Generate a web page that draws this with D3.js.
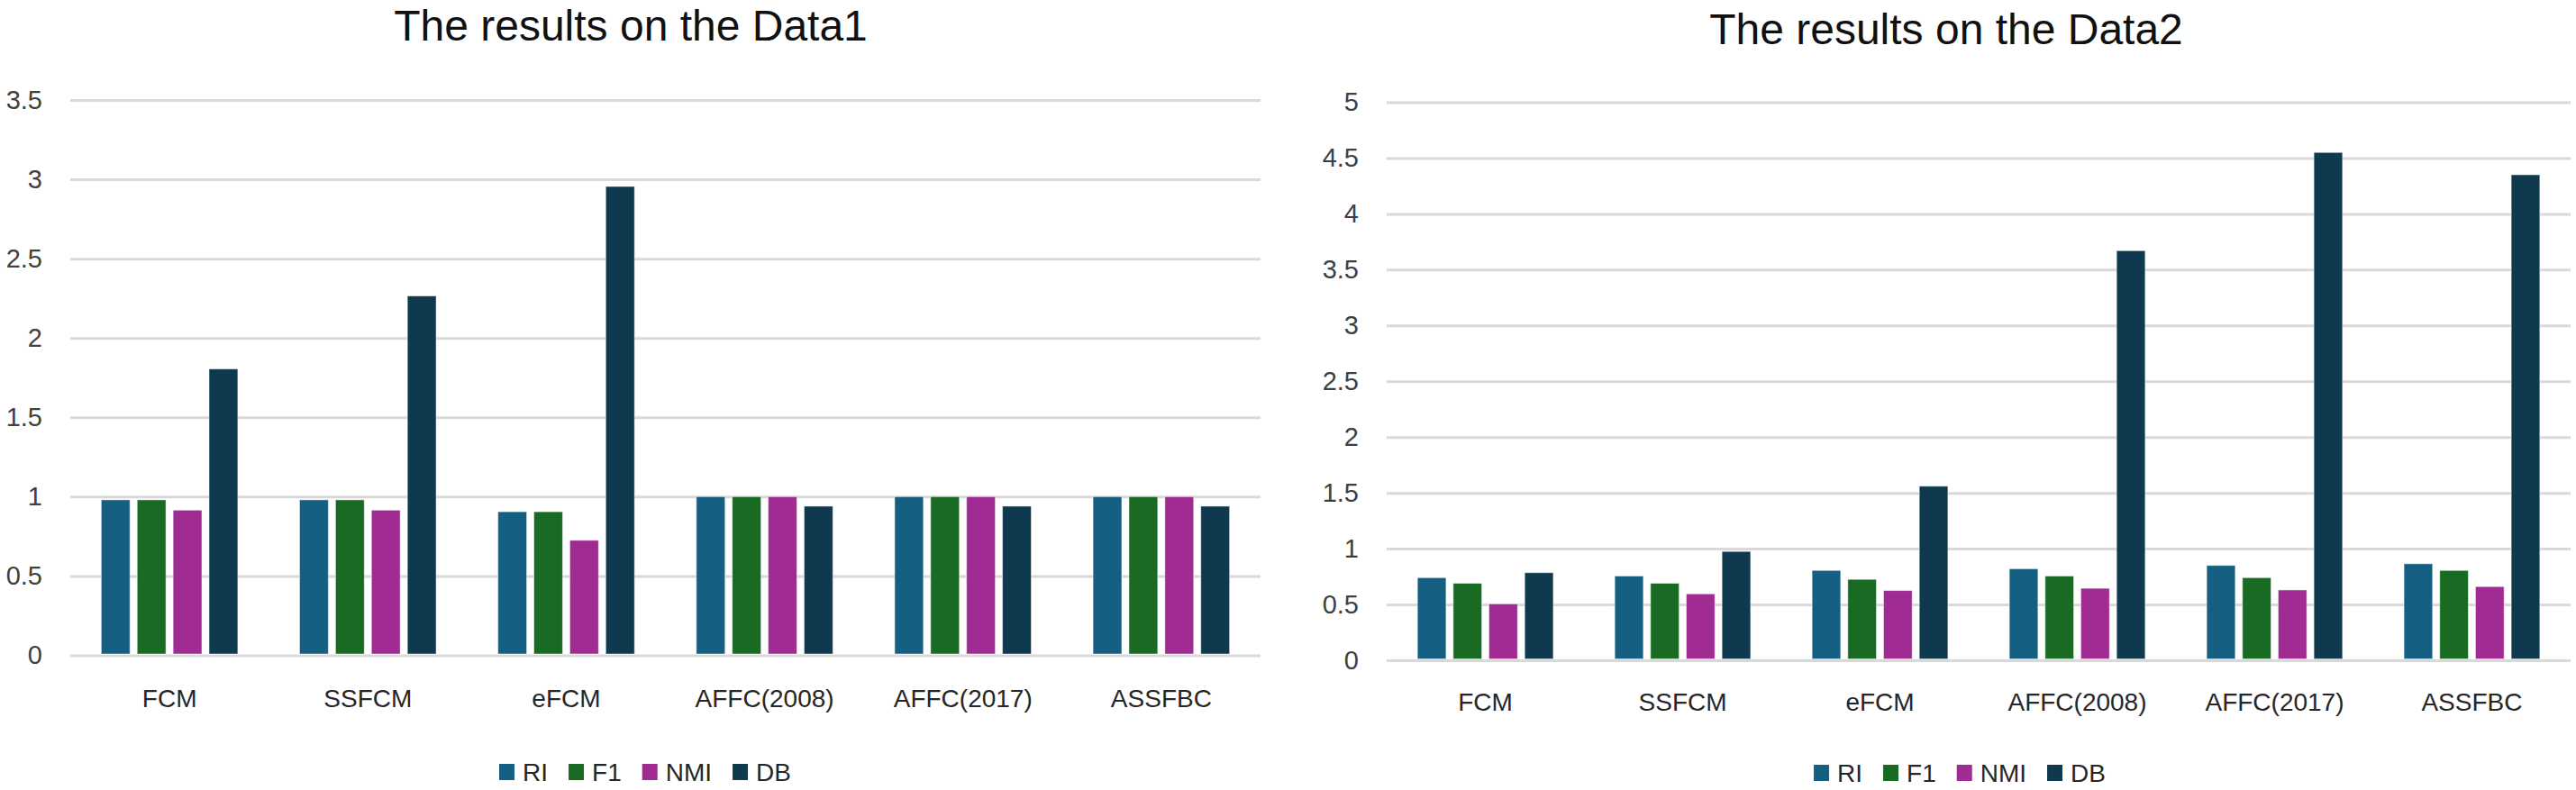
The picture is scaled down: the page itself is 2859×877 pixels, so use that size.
<!DOCTYPE html>
<html>
<head>
<meta charset="utf-8">
<script src="https://cdn.jsdelivr.net/npm/d3@7"></script>
<style>
  html, body { margin: 0; padding: 0; background: #fff; }
  text { font-family: "Liberation Sans", Arial, sans-serif; }
</style>
</head>
<body>
<svg id="canvas" width="2859" height="877"></svg>
<script>
// ************************************************************************************** //
// Data

var methods = ['FCM', 'SSFCM', 'eFCM', 'AFFC(2008)', 'AFFC(2017)', 'ASSFBC'];
var metrics = ['RI', 'F1', 'NMI', 'DB'];
var colors  = ['#156082', '#196B24', '#A02B93', '#0E394E'];

// Data1 results, one array per metric
var d1_RI  = [0.98, 0.98, 0.905, 1.0, 1.0, 1.0];
var d1_F1  = [0.98, 0.98, 0.905, 1.0, 1.0, 1.0];
var d1_NMI = [0.915, 0.915, 0.725, 1.0, 1.0, 1.0];
var d1_DB  = [1.805, 2.265, 2.955, 0.94, 0.94, 0.94];

// Data2 results
var d2_RI  = [0.74, 0.755, 0.805, 0.82, 0.85, 0.865];
var d2_F1  = [0.69, 0.69, 0.725, 0.755, 0.74, 0.805];
var d2_NMI = [0.505, 0.595, 0.625, 0.645, 0.63, 0.66];
var d2_DB  = [0.785, 0.975, 1.56, 3.67, 4.55, 4.35];

var ticks1 = [0, 0.5, 1, 1.5, 2, 2.5, 3, 3.5];
var ticks2 = [0, 0.5, 1, 1.5, 2, 2.5, 3, 3.5, 4, 4.5, 5];

var titles = ['The results on the Data1', 'The results on the Data2'];

// ************************************************************************************** //
// Drawing one chart

function drawChart(cfg){
  var g = d3.select('#canvas').append('g');
  var series = cfg.series;

  var x0 = d3.scaleBand().domain(methods).range([cfg.left, cfg.right]).paddingInner(0.3115).paddingOuter(0.156);
  var x1 = d3.scaleBand().domain(metrics).range([0, x0.bandwidth()]).paddingInner(0.2);
  var y = d3.scaleLinear().domain([0, cfg.ticks[cfg.ticks.length - 1]]).range([cfg.bottom, cfg.top]);

  // Title
  g.append('text')
    .attr('x', cfg.cx).attr('y', cfg.titleY)
    .attr('text-anchor', 'middle')
    .style('font-size', '48px').style('fill', '#111')
    .text(cfg.title);

  // Grid lines and y labels
  var yAxis = d3.axisLeft(y).tickValues(cfg.ticks).tickSize(-(cfg.right - cfg.left)).tickPadding(31).tickFormat(d3.format('~g'));
  var ax = g.append('g').attr('transform', 'translate(' + cfg.left + ',0)').call(yAxis);
  ax.select('.domain').remove();
  ax.selectAll('.tick line').attr('stroke', '#d9d9d9').attr('stroke-width', 3);
  ax.selectAll('.tick text').style('font-size', '29px').style('fill', '#404040').style('font-family', '"Liberation Sans", Arial, sans-serif');

  // Bars
  var groups = g.selectAll('.grp').data(methods).enter().append('g')
    .attr('transform', function(d){ return 'translate(' + x0(d) + ',0)'; });

  groups.selectAll('rect').data(function(d, i){
      return metrics.map(function(m, k){ return { metric: m, value: series[k][i], k: k }; });
    }).enter().append('rect')
    .attr('x', function(d){ return x1(d.metric); })
    .attr('y', function(d){ return y(d.value); })
    .attr('width', x1.bandwidth())
    .attr('height', function(d){ return cfg.bottom - y(d.value) - 1.5; })
    .attr('fill', function(d){ return colors[d.k]; })
    .attr('stroke', '#ffffff').attr('stroke-opacity', 0.5).attr('stroke-width', 1);

  // Category labels
  var xAxis = d3.axisBottom(x0).tickSize(0).tickPadding(cfg.labelPad);
  var bx = g.append('g').attr('transform', 'translate(0,' + cfg.bottom + ')').call(xAxis);
  bx.select('.domain').remove();
  bx.selectAll('.tick text').style('font-size', '28px').style('fill', '#262626').style('font-family', '"Liberation Sans", Arial, sans-serif');

  // Legend
  var leg = g.append('g');
  var xpos = 0;
  metrics.forEach(function(m, k){
    var item = leg.append('g').attr('transform', 'translate(' + xpos + ',0)');
    item.append('rect').attr('x', 0).attr('y', -9).attr('width', 17).attr('height', 18).attr('fill', colors[k]);
    var t = item.append('text').attr('x', 26).attr('y', 0).attr('dy', '0.36em')
      .style('font-size', '28px').style('fill', '#262626').text(m);
    xpos += 26 + t.node().getComputedTextLength() + 23;
  });
  var legW = xpos - 23;
  leg.attr('transform', 'translate(' + (cfg.legendCx - legW / 2) + ',' + cfg.legendY + ')');
}

drawChart({
  title: titles[0], cx: 700, titleY: 45,
  left: 78, right: 1399, top: 111, bottom: 727.5,
  ticks: ticks1, labelPad: 38,
  series: [d1_RI, d1_F1, d1_NMI, d1_DB],
  legendCx: 716, legendY: 857
});

drawChart({
  title: titles[1], cx: 2160, titleY: 49,
  left: 1539, right: 2853, top: 113.5, bottom: 733,
  ticks: ticks2, labelPad: 36,
  series: [d2_RI, d2_F1, d2_NMI, d2_DB],
  legendCx: 2175, legendY: 858
});
</script>
</body>
</html>
